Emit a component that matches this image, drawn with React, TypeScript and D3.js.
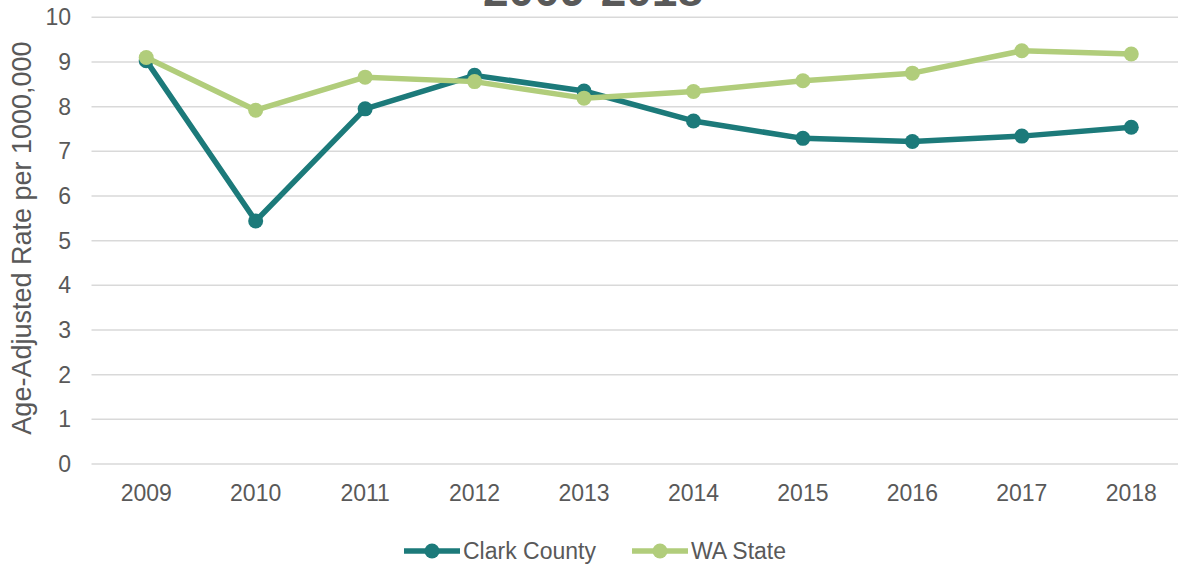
import React, { useEffect, useRef } from 'react';
import * as d3 from 'd3';

const years = ['2009', '2010', '2011', '2012', '2013', '2014', '2015', '2016', '2017', '2018'];
const clarkCounty = [9.03, 5.44, 7.95, 8.7, 8.35, 7.68, 7.29, 7.22, 7.34, 7.54];
const waState = [9.1, 7.92, 8.66, 8.56, 8.19, 8.34, 8.58, 8.75, 9.25, 9.18];
const yTicks = [0, 1, 2, 3, 4, 5, 6, 7, 8, 9, 10];

const seriesList = [
    { name: 'Clark County', values: clarkCounty, color: '#1c7a7a' },
    { name: 'WA State', values: waState, color: '#b1cd7b' },
];

const App = () => {
    const svgRef = useRef<SVGSVGElement>(null);

    useEffect(() => {
        const width = 1178;
        const height = 567;
        const svg = d3.select(svgRef.current);
        svg.selectAll('*').remove();
        svg.attr('width', width).attr('height', height);

        const font = 'Liberation Sans, Arial, sans-serif';
        const textColor = '#595959';

        const x = d3.scaleBand().domain(years).range([91.5, 1186]);
        const y = d3.scaleLinear().domain([0, 10]).range([464, 17.3]);

        // title, mostly cut off by the top edge (as in the source image)
        svg.append('text')
            .attr('x', 593)
            .attr('y', 6)
            .attr('text-anchor', 'middle')
            .attr('font-family', font)
            .attr('font-weight', 'bold')
            .attr('font-size', 46)
            .attr('fill', textColor)
            .text('2009-2018');

        // grid
        svg.append('g')
            .selectAll('line')
            .data(yTicks)
            .enter()
            .append('line')
            .attr('x1', 91.5)
            .attr('x2', 1178)
            .attr('y1', d => y(d))
            .attr('y2', d => y(d))
            .attr('stroke', '#d9d9d9')
            .attr('stroke-width', 1.5);

        // y tick labels
        svg.append('g')
            .selectAll('text')
            .data(yTicks)
            .enter()
            .append('text')
            .attr('x', 71)
            .attr('y', d => y(d))
            .attr('dy', '0.35em')
            .attr('text-anchor', 'end')
            .attr('font-family', font)
            .attr('font-size', 23)
            .attr('fill', textColor)
            .text(d => d);

        // x tick labels
        svg.append('g')
            .selectAll('text')
            .data(years)
            .enter()
            .append('text')
            .attr('x', d => x(d)! + x.bandwidth() / 2)
            .attr('y', 501)
            .attr('text-anchor', 'middle')
            .attr('font-family', font)
            .attr('font-size', 23)
            .attr('fill', textColor)
            .text(d => d);

        // y axis title
        svg.append('text')
            .attr('transform', 'translate(31, 238) rotate(-90)')
            .attr('text-anchor', 'middle')
            .attr('font-family', font)
            .attr('font-size', 27)
            .attr('fill', textColor)
            .text('Age-Adjusted Rate per 1000,000');

        const line = d3.line<number>()
            .x((d, i) => x(years[i])! + x.bandwidth() / 2)
            .y(d => y(d));

        seriesList.forEach(s => {
            const g = svg.append('g');
            g.append('path')
                .attr('d', line(s.values))
                .attr('fill', 'none')
                .attr('stroke', s.color)
                .attr('stroke-width', 5.5)
                .attr('stroke-linejoin', 'round');
            g.selectAll('circle')
                .data(s.values)
                .enter()
                .append('circle')
                .attr('cx', (d, i) => x(years[i])! + x.bandwidth() / 2)
                .attr('cy', d => y(d))
                .attr('r', 7.5)
                .attr('fill', s.color);
        });

        // legend
        const legendX = [404, 632];
        seriesList.forEach((s, i) => {
            const lg = svg.append('g').attr('transform', `translate(${legendX[i]}, 551)`);
            lg.append('line')
                .attr('x1', 0)
                .attr('x2', 56)
                .attr('stroke', s.color)
                .attr('stroke-width', 5.5);
            lg.append('circle')
                .attr('cx', 28)
                .attr('r', 7.5)
                .attr('fill', s.color);
            lg.append('text')
                .attr('x', 59)
                .attr('dy', '0.35em')
                .attr('font-family', font)
                .attr('font-size', 23)
                .attr('fill', textColor)
                .text(s.name);
        });
    }, []);

    return (
        <svg ref={svgRef} style={{ position: 'absolute', left: 0, top: 0 }}></svg>
    );
};

export default App;
